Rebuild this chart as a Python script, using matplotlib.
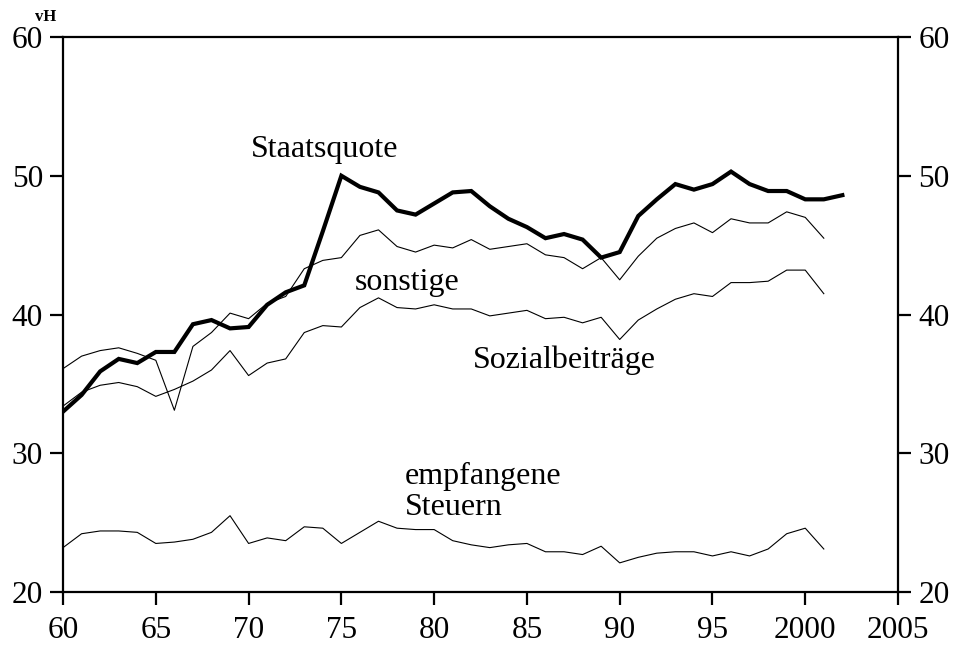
import numpy as np
import matplotlib
matplotlib.use("Agg")
import matplotlib.pyplot as plt

plt.rcParams['font.family'] = ['Liberation Serif', 'DejaVu Serif']

# Jahre 1960 bis 2002 (Achse in Kurzform 60 ... 105)
years = list(range(60, 103))

staatsquote = [33.0, 34.2, 35.9, 36.8, 36.5, 37.3, 37.3, 39.3, 39.6, 39.0,
               39.1, 40.7, 41.6, 42.1, 46.0, 50.0, 49.2, 48.8, 47.5, 47.2,
               48.0, 48.8, 48.9, 47.8, 46.9, 46.3, 45.5, 45.8, 45.4, 44.1,
               44.5, 47.1, 48.3, 49.4, 49.0, 49.4, 50.3, 49.4, 48.9, 48.9,
               48.3, 48.3, 48.6]

# Obergrenze sonstige (gesamte Einnahmen), 1960-2001
sonstige = [36.1, 37.0, 37.4, 37.6, 37.2, 36.7, 33.1, 37.7, 38.7, 40.1,
            39.7, 40.8, 41.3, 43.3, 43.9, 44.1, 45.7, 46.1, 44.9, 44.5,
            45.0, 44.8, 45.4, 44.7, 44.9, 45.1, 44.3, 44.1, 43.3, 44.1,
            42.5, 44.2, 45.5, 46.2, 46.6, 45.9, 46.9, 46.6, 46.6, 47.4,
            47.0, 45.5]

# Obergrenze Sozialbeiträge, 1960-2001
sozialbeitraege = [33.4, 34.4, 34.9, 35.1, 34.8, 34.1, 34.6, 35.2, 36.0, 37.4,
                   35.6, 36.5, 36.8, 38.7, 39.2, 39.1, 40.5, 41.2, 40.5, 40.4,
                   40.7, 40.4, 40.4, 39.9, 40.1, 40.3, 39.7, 39.8, 39.4, 39.8,
                   38.2, 39.6, 40.4, 41.1, 41.5, 41.3, 42.3, 42.3, 42.4, 43.2,
                   43.2, 41.5]

# empfangene Steuern, 1960-2001
steuern = [23.2, 24.2, 24.4, 24.4, 24.3, 23.5, 23.6, 23.8, 24.3, 25.5,
           23.5, 23.9, 23.7, 24.7, 24.6, 23.5, 24.3, 25.1, 24.6, 24.5,
           24.5, 23.7, 23.4, 23.2, 23.4, 23.5, 22.9, 22.9, 22.7, 23.3,
           22.1, 22.5, 22.8, 22.9, 22.9, 22.6, 22.9, 22.6, 23.1, 24.2,
           24.6, 23.1]

xticks = [60, 65, 70, 75, 80, 85, 90, 95, 100, 105]
xtick_labels = ["60", "65", "70", "75", "80", "85", "90", "95", "2000", "2005"]
yticks = [20, 30, 40, 50, 60]

fig = plt.figure(figsize=(9.58, 6.48), dpi=100)
ax = fig.add_axes([0.0658, 0.0864, 0.8716, 0.8565])

ax.plot(years, staatsquote, color="black", lw=3.0, solid_joinstyle="miter")
n = len(sonstige)
ax.plot(years[:n], sonstige, color="black", lw=0.8)
ax.plot(years[:n], sozialbeitraege, color="black", lw=0.8)
ax.plot(years[:n], steuern, color="black", lw=0.8)

ax.set_xlim(60, 105)
ax.set_ylim(20, 60)
ax.set_xticks(xticks)
ax.set_xticklabels(xtick_labels)
ax.set_yticks(yticks)

for s in ax.spines.values():
    s.set_linewidth(1.6)

ax.tick_params(axis="both", which="major", direction="out", length=9.5, width=1.6,
               labelsize=22.5)
ax.tick_params(axis="x", pad=8)
ax.tick_params(axis="y", pad=5, right=True, labelright=True)

fs = 23
ax.text(70.1, 51.9, "Staatsquote", fontsize=fs, va="center", ha="left")
ax.text(75.7, 42.3, "sonstige", fontsize=fs, va="center", ha="left")
ax.text(82.1, 36.7, "Sozialbeiträge", fontsize=fs, va="center", ha="left")
ax.text(78.4, 28.3, "empfangene", fontsize=fs, va="center", ha="left")
ax.text(78.4, 26.1, "Steuern", fontsize=fs, va="center", ha="left")

fig.text(35 / 958, 1 - 17 / 648, "vH", fontsize=12, fontweight="bold",
         va="center", ha="left")

fig.savefig("out.png", dpi=100)
